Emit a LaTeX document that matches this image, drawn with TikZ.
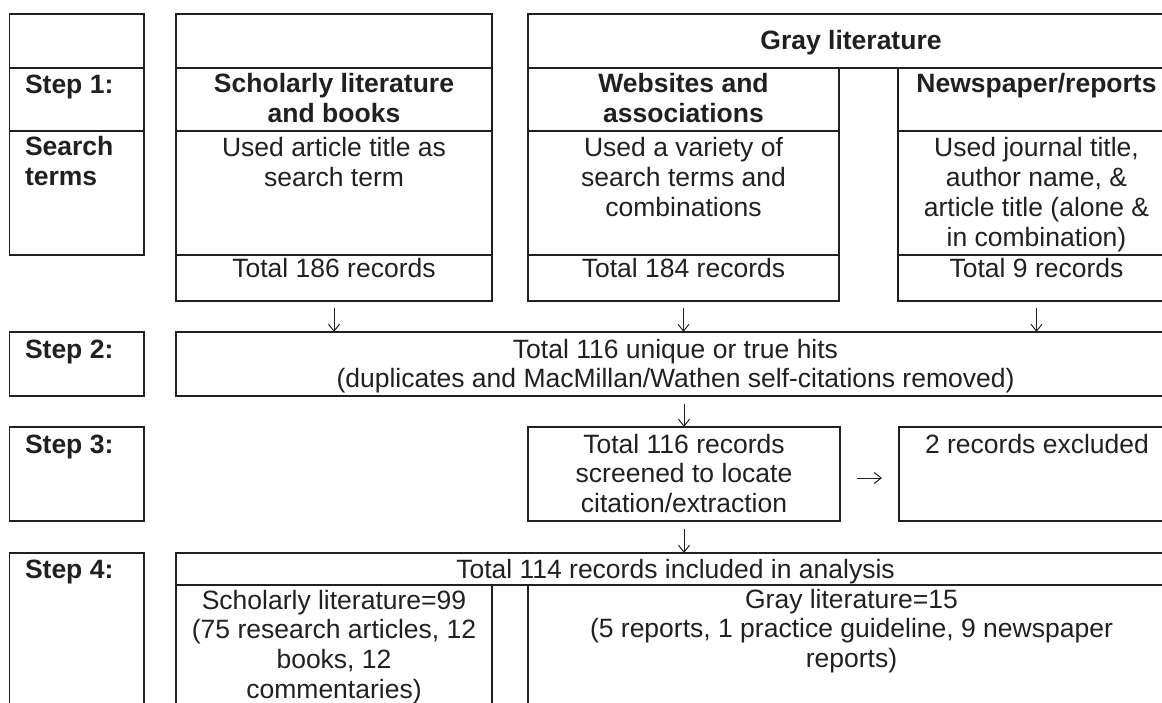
\documentclass[tikz,border=0pt]{standalone}
\usepackage{fontspec}
\setmainfont{Liberation Sans}
\usetikzlibrary{arrows.meta}
\definecolor{ink}{RGB}{35,31,32}
\newcommand\mycell[5]{\node[cell, minimum width={(#4-#2)*1pt}, minimum height={(#5-#3)*1pt}] (#1) at (#2,#3) {};}
% multi-line nodes: base anchor is on the last line; first-line baseline given, plus (lines-1)*skip
\newcommand\lsk{29.7}
\begin{document}
\begin{tikzpicture}[x=1pt,y=-1pt, color=ink,
  cell/.style={draw=ink, line width=1.5pt, inner sep=0pt, outer sep=0pt, anchor=north west},
  txt/.style={text=ink, inner sep=0pt, outer sep=0pt, font=\fontsize{26.5}{29.7}\selectfont, align=center, anchor=base},
  hdr/.style={txt, font=\fontsize{26.5}{29.7}\selectfont\bfseries},
  lbl/.style={txt, font=\fontsize{26.5}{29.7}\selectfont\bfseries, align=left, anchor=base west},
  arr/.style={draw=ink, line width=1pt, -{Straight Barb[length=7pt,width=11pt]}}]
\useasboundingbox (0,0) rectangle (1162,703);
\clip (0,0) rectangle (1162,703);
% Step 1 label column
\mycell{l0}{9.5}{14}{144}{68}
\mycell{l1}{9.5}{68}{144}{131}
\mycell{l2}{9.5}{131}{144}{255}
% Scholarly column
\mycell{sch0}{176}{14}{492}{68}
\mycell{sch1}{176}{68}{492}{131}
\mycell{sch2}{176}{131}{492}{255}
\mycell{sch3}{176}{255}{492}{301}
% Gray literature
\mycell{gray0}{528}{14}{1175}{68}
\mycell{web1}{528}{68}{839}{131}
\mycell{web2}{528}{131}{839}{255}
\mycell{web3}{528}{255}{839}{301}
\mycell{news1}{898}{68}{1175}{131}
\mycell{news2}{898}{131}{1175}{255}
\mycell{news3}{898}{255}{1175}{301}
% Step 2
\mycell{l3}{9.5}{332}{144}{396}
\mycell{s2main}{176}{332}{1175}{396}
% Step 3
\mycell{l4}{9.5}{427}{144}{521}
\mycell{s3mid}{528}{427}{840}{521}
\mycell{s3x}{899}{427}{1175}{521}
% Step 4
\mycell{l5}{9.5}{553}{144}{720}
\mycell{s4top}{176}{553}{1175}{585}
\mycell{s4sch}{176}{585}{492}{720}
\mycell{s4gray}{528}{585}{1175}{720}

% Texts
\node[lbl] (tstep1) at (25,94) {Step 1:};
\node[lbl] (tsearch) at (25,{156+\lsk}) {Search\\terms};
\node[lbl] (tstep2) at (25,358) {Step 2:};
\node[lbl] (tstep3) at (25,453) {Step 3:};
\node[lbl] (tstep4) at (25,578) {Step 4:};

\node[hdr] (tsch1) at (334,{93+\lsk}) {Scholarly literature\\and books};
\node[txt] (tsch2) at (334,{157+\lsk}) {Used article title as\\search term};
\node[txt] (tsch3) at (334,278) {Total 186 records};

\node[hdr] (tgray) at (851,50) {Gray literature};
\node[hdr] (tweb1) at (683.5,{93+\lsk}) {Websites and\\associations};
\node[txt] (tweb2) at (683.5,{157+2*\lsk}) {Used a variety of\\search terms and\\combinations};
\node[txt] (tweb3) at (683.5,278) {Total 184 records};

\node[hdr] (tnews1) at (1036.5,93) {Newspaper/reports};
\node[txt] (tnews2) at (1036.5,{157+3*\lsk}) {Used journal title,\\author name, \&\\article title (alone \&\\in combination)};
\node[txt] (tnews3) at (1036.5,278) {Total 9 records};

\node[txt] (ts2) at (675.5,{358+\lsk}) {Total 116 unique or true hits\\(duplicates and MacMillan/Wathen self-citations removed)};
\node[txt] (ts3mid) at (684,{453+2*\lsk}) {Total 116 records\\screened to locate\\citation/extraction};
\node[txt] (ts3x) at (1037,453) {2 records excluded};
\node[txt] (ts4top) at (675.5,578) {Total 114 records included in analysis};
\node[txt] (ts4sch) at (334,{609+3*\lsk}) {Scholarly literature=99\\(75 research articles, 12\\books, 12\\commentaries)};
\node[txt] (ts4gray) at (851.5,{608+2*\lsk}) {Gray literature=15\\(5 reports, 1 practice guideline, 9 newspaper\\reports)};

% Connectors
\draw[arr] ([yshift=-7pt]sch3.south) -- (sch3.south |- s2main.north);
\draw[arr] ([yshift=-7pt]web3.south) -- (web3.south |- s2main.north);
\draw[arr] ([yshift=-7pt]news3.south) -- (news3.south |- s2main.north);
\draw[arr] ([yshift=-8pt]s2main.south -| s3mid.north) -- (s3mid.north);
\draw[arr] ([yshift=-8pt]s3mid.south) -- (s4top.north -| s3mid.south);
\draw[arr] ([shift={(17pt,-4pt)}]s3mid.east) -- ([shift={(-17pt,-4pt)}]s3x.west);
\end{tikzpicture}
\end{document}
